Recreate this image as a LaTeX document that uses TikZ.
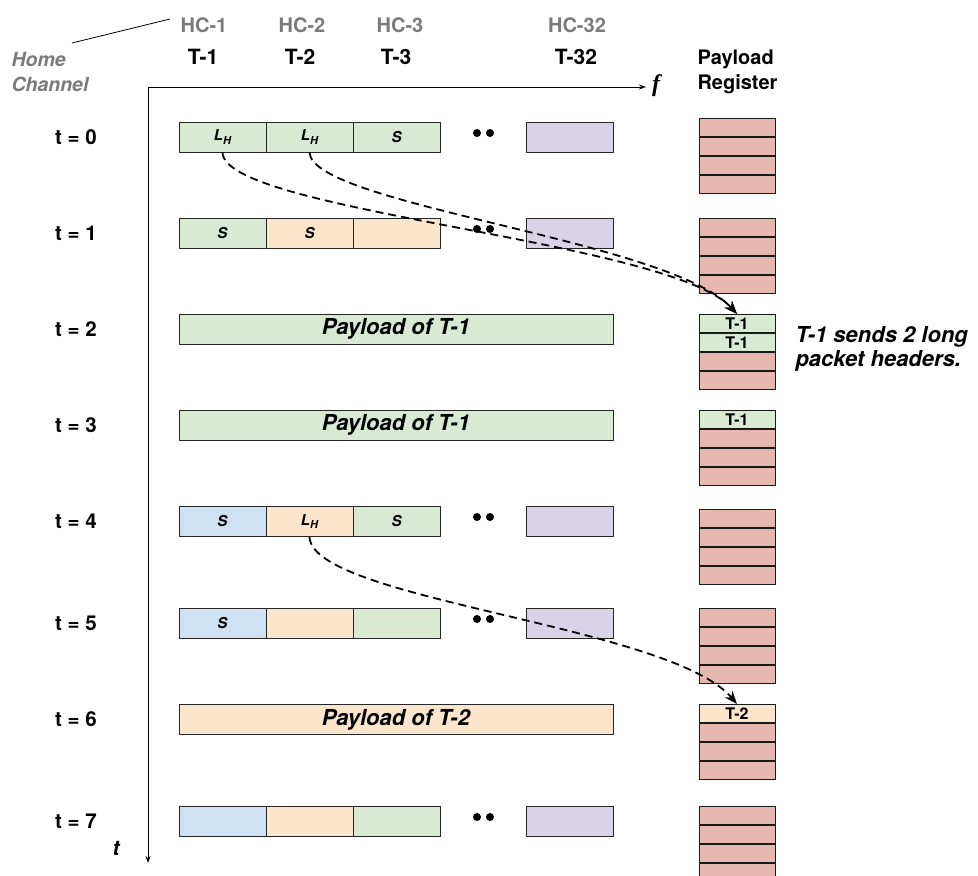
\documentclass[tikz,border=0pt]{standalone}
\usepackage{fontspec}
\setmainfont{TeX Gyre Heros}
\newfontfamily\serifit{Liberation Serif}
\usetikzlibrary{arrows.meta}
\definecolor{cg}{HTML}{D9EAD3}
\definecolor{co}{HTML}{FCE5CD}
\definecolor{cb}{HTML}{CFE2F3}
\definecolor{cp}{HTML}{D9D2E9}
\definecolor{cr}{HTML}{E6B8AF}
\definecolor{hcgray}{HTML}{7A7A7A}
\newcommand{\LH}{\textbf{\textit{L}}\raisebox{-0.4ex}{\fontsize{11}{12}\selectfont\textbf{\textit{H}}}}
\begin{document}
\begin{tikzpicture}[x=1pt,y=-1pt,
  cellbox/.style={draw=black!85, line width=0.9pt, minimum width=87pt, minimum height=30pt, inner sep=0pt, font=\fontsize{15}{17}\selectfont\bfseries\itshape},
  wide/.style={cellbox, minimum width=434pt, font=\fontsize{22}{24}\selectfont\bfseries\itshape},
  reg/.style={draw=black!90, line width=0.9pt, fill=cr, minimum width=76pt, minimum height=18pt, inner sep=0pt, anchor=north, font=\fontsize{16}{17}\selectfont\bfseries},
  tlab/.style={font=\fontsize{20.5}{22}\selectfont\bfseries},
  hc/.style={font=\fontsize{20}{22}\selectfont\bfseries, text=hcgray},
  th/.style={font=\fontsize{21}{23}\selectfont\bfseries},
  dotn/.style={circle, fill=black, inner sep=0pt, minimum size=8pt},
  dasharrow/.style={dashed, dash pattern=on 8pt off 5pt, line width=1.8pt, -{Stealth[length=13pt,width=10pt]}}
]
\useasboundingbox (0,0) rectangle (978,876);

% headers
\node[hc] (hc1) at (204,25) {HC-1};
\node[hc] (hc2) at (302,25) {HC-2};
\node[hc] (hc3) at (400,25) {HC-3};
\node[hc] (hc32) at (577,25) {HC-32};
\node[th] (T1) at (203,57) {T-1};
\node[th] (T2) at (300,57) {T-2};
\node[th] (T3) at (396,57) {T-3};
\node[th] (T32) at (576,57) {T-32};
\node[font=\fontsize{19.5}{25}\selectfont\bfseries\itshape, text=hcgray, align=left, anchor=west] (home) at (8,72) {Home\\Channel};
\coordinate (hl) at (72,43);
\coordinate (hr) at (170,19);
\draw[line width=0.8pt] (hl) -- (hr);
\node[font=\fontsize{20}{25}\selectfont\bfseries, align=left, anchor=west] (preg) at (694,72) {Payload\\Register};

% axes
\coordinate (o) at (148,87);
\coordinate (fx) at (646,87);
\coordinate (ty) at (148,863);
\draw[line width=1pt, -{Stealth[length=7pt,width=5pt]}] (o) -- (fx);
\draw[line width=1pt, -{Stealth[length=7pt,width=5pt]}] (o) -- (ty);
\node[font=\fontsize{24}{26}\selectfont\serifit\itshape\bfseries] (flab) at (656,86) {f};
\node[font=\fontsize{21}{23}\selectfont\bfseries\itshape] (tlabel) at (116,848) {t};

% time labels
\foreach \i/\y in {0/137,1/233,2/329,3/425,4/521,5/623,6/719,7/821}
  \node[tlab] (tl\i) at (76,\y) {t = \i};

% row t=0
\node[cellbox, fill=cg] (a01) at (222.5,137) {\LH};
\node[cellbox, fill=cg] (a02) at (309.5,137) {\LH};
\node[cellbox, fill=cg] (a03) at (396.5,137) {S};
\node[cellbox, fill=cp] (a032) at (570,137) {};
% row t=1
\node[cellbox, fill=cg] (a11) at (222.5,233) {S};
\node[cellbox, fill=co] (a12) at (309.5,233) {S};
\node[cellbox, fill=co] (a13) at (396.5,233) {};
\node[cellbox, fill=cp] (a132) at (570,233) {};
% row t=2,3
\node[wide, fill=cg] (a2) at (396,329) {Payload of T-1};
\node[wide, fill=cg] (a3) at (396,425) {Payload of T-1};
% row t=4
\node[cellbox, fill=cb] (a41) at (222.5,521.5) {S};
\node[cellbox, fill=co] (a42) at (309.5,521.5) {\LH};
\node[cellbox, fill=cg] (a43) at (396.5,521.5) {S};
\node[cellbox, fill=cp] (a432) at (570,521.5) {};
% row t=5
\node[cellbox, fill=cb] (a51) at (222.5,623.5) {S};
\node[cellbox, fill=co] (a52) at (309.5,623.5) {};
\node[cellbox, fill=cg] (a53) at (396.5,623.5) {};
\node[cellbox, fill=cp] (a532) at (570,623.5) {};
% row t=6
\node[wide, fill=co] (a6) at (396,719.5) {Payload of T-2};
% row t=7
\node[cellbox, fill=cb] (a71) at (222.5,821.5) {};
\node[cellbox, fill=co] (a72) at (309.5,821.5) {};
\node[cellbox, fill=cg] (a73) at (396.5,821.5) {};
\node[cellbox, fill=cp] (a732) at (570,821.5) {};

% dots
\foreach \r/\y in {0/133,1/229,4/517,5/619,7/817}{
  \node[dotn] (dl\r) at (477,\y) {};
  \node[dotn] (dr\r) at (490,\y) {};
}

% payload registers
\foreach \r/\y in {0/118,1/218,2/314,3/410,4/509,5/608,6/704,7/806}{
  \node[reg] (r\r a) at (737,\y) {};
  \node[reg] (r\r b) at (r\r a.south) {};
  \node[reg] (r\r c) at (r\r b.south) {};
  \node[reg] (r\r d) at (r\r c.south) {};
}
\node[reg, fill=cg] (r2a') at (r2a.north) {T-1};
\node[reg, fill=cg] (r2b') at (r2b.north) {T-1};
\node[reg, fill=cg] (r3a') at (r3a.north) {T-1};
\node[reg, fill=co] (r6a') at (r6a.north) {T-2};

\node[font=\fontsize{22}{24}\selectfont\bfseries\itshape, align=left, anchor=west] (note) at (792,349) {T-1 sends 2 long\\packet headers.};

% dashed arrows
\draw[dasharrow] (a01.south) .. controls (224,212) and (670,240) .. (r2a'.north);
\draw[dasharrow] (a02.south) .. controls (312,205) and (670,240) .. (r2a'.north);
\draw[dasharrow] (a42.south) .. controls (312,600) and (670,625) .. (r6a'.north);
\end{tikzpicture}
\end{document}
